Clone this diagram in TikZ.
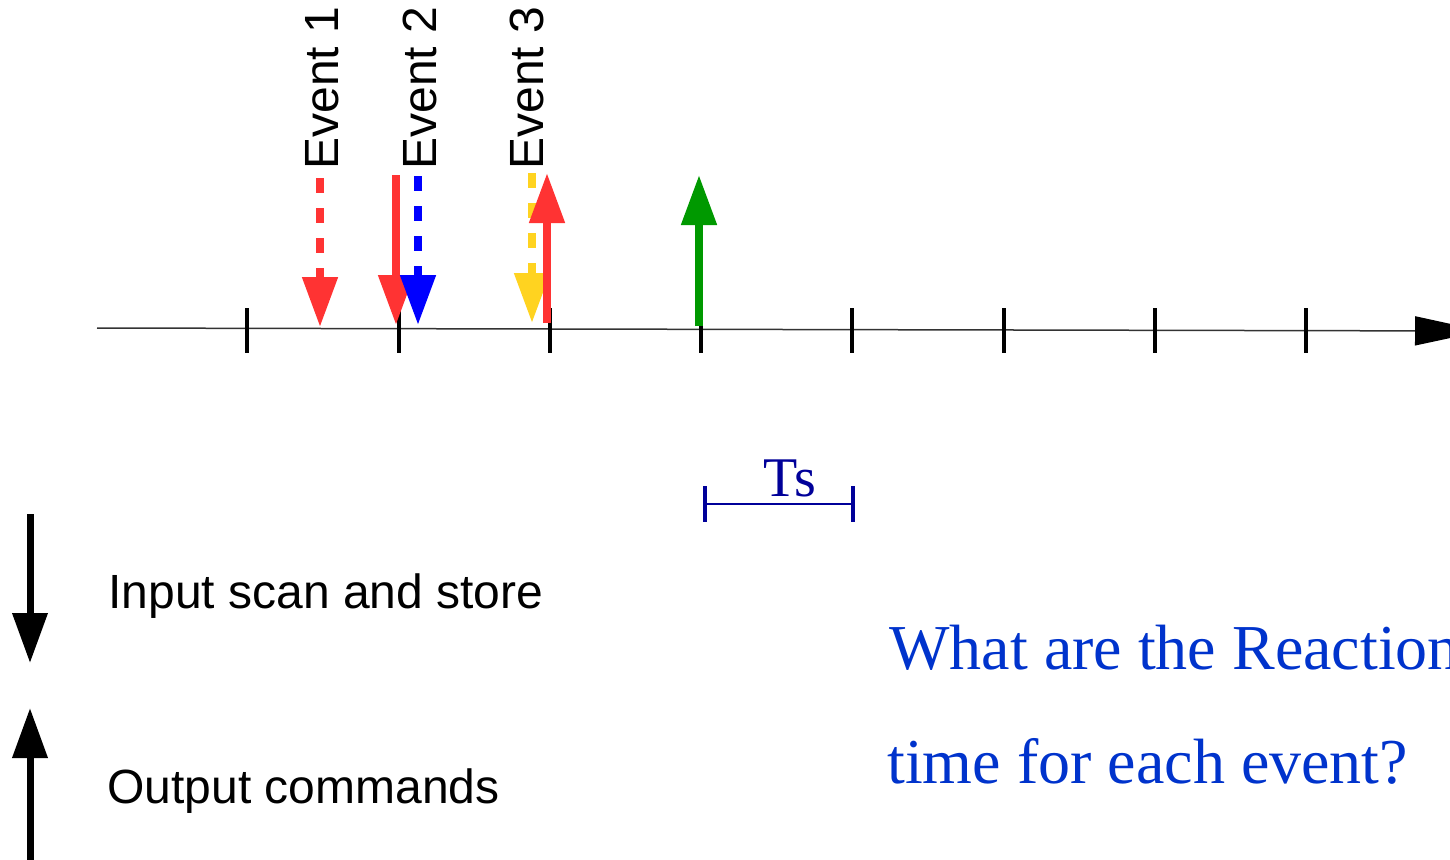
\documentclass[tikz,border=0pt]{standalone}
\usepackage{fontspec}
\setmainfont{Liberation Sans}
\newfontfamily\serifq{Liberation Serif}
\usetikzlibrary{arrows.meta}
\definecolor{evred}{HTML}{FF3333}
\definecolor{evblue}{HTML}{0000FF}
\definecolor{evyellow}{HTML}{FFD320}
\definecolor{evgreen}{HTML}{009900}
\definecolor{tsnavy}{HTML}{000099}
\definecolor{qblue}{HTML}{0033CC}
\definecolor{axisgray}{HTML}{333333}
\tikzset{
  evarrow/.style={line width=4pt, -{Triangle[length=25pt,width=17pt]}},
  evdash/.style={evarrow, dash pattern=on 7.5pt off 7.5pt},
  tickmark/.style={line width=2.2pt, black},
  evlabel/.style={rotate=90, anchor=base west, inner sep=0pt, font=\fontsize{24}{28}\selectfont},
  legtext/.style={anchor=base west, inner sep=0pt, font=\fontsize{24}{28}\selectfont},
  qtext/.style={anchor=base west, inner sep=0pt, text=qblue, font=\serifq\fontsize{32}{38}\selectfont},
}
\begin{document}
\begin{tikzpicture}[x=0.5pt,y=-0.5pt]
\useasboundingbox (0,0) rectangle (1450,859);
\clip (0,0) rectangle (1450,859);
% axis
\coordinate (axL) at (97,328);
\coordinate (axR) at (1483,331);
\draw[axisgray, line width=0.75pt, -{Triangle[length=34pt,width=14.5pt,color=black]}] (axL) -- (axR);
% ticks
\foreach \x/\n in {247/1,399/2,550/3,701/4,852/5,1004/6,1155/7,1306/8} {
  \coordinate (t\n a) at (\x,308);
  \coordinate (t\n b) at (\x,353);
  \draw[tickmark] (t\n a) -- (t\n b);
}
% event labels
\node[evlabel] (ev1) at (338,170) {Event 1};
\node[evlabel] (ev2) at (436,170) {Event 2};
\node[evlabel] (ev3) at (543,170) {Event 3};
% event 1
\coordinate (e1s) at (320,178);
\coordinate (e1e) at (320,327);
\draw[evdash, evred] (e1s) -- (e1e);
% event 2
\coordinate (e2s) at (396,175);
\coordinate (e2e) at (396,325);
\draw[evarrow, evred] (e2s) -- (e2e);
\coordinate (b2s) at (418,176);
\coordinate (b2e) at (418,325);
\draw[evdash, evblue] (b2s) -- (b2e);
% event 3
\coordinate (y3s) at (532,173);
\coordinate (y3e) at (532,323);
\draw[evdash, evyellow] (y3s) -- (y3e);
\coordinate (r3s) at (547,323);
\coordinate (r3e) at (547,173);
\draw[evarrow, evred] (r3s) -- (r3e);
% green output
\coordinate (gs) at (699,326);
\coordinate (ge) at (699,175);
\draw[evarrow, evgreen] (gs) -- (ge);
% Ts bracket
\coordinate (tsL) at (705,504);
\coordinate (tsR) at (853,504);
\draw[tsnavy, line width=1pt] (tsL) -- (tsR);
\draw[tsnavy, line width=2pt] (705,486) -- (705,522);
\draw[tsnavy, line width=2pt] (853,486) -- (853,522);
\node[anchor=base, inner sep=0pt, text=tsnavy, font=\serifq\fontsize{28}{34}\selectfont] (ts) at (790,496) {Ts};
% legend
\coordinate (l1s) at (30,514);
\coordinate (l1e) at (30,663);
\draw[evarrow, black, line width=3.5pt] (l1s) -- (l1e);
\coordinate (l2s) at (30,870);
\coordinate (l2e) at (30,708);
\draw[evarrow, black, line width=3.5pt] (l2s) -- (l2e);
\node[legtext] (lt1) at (108,608) {Input scan and store};
\node[legtext] (lt2) at (107,803) {Output commands};
% question
\node[qtext] (q1) at (889,669) {What are the Reaction};
\node[qtext] (q2) at (887,783) {time for each event?};
\end{tikzpicture}
\end{document}
